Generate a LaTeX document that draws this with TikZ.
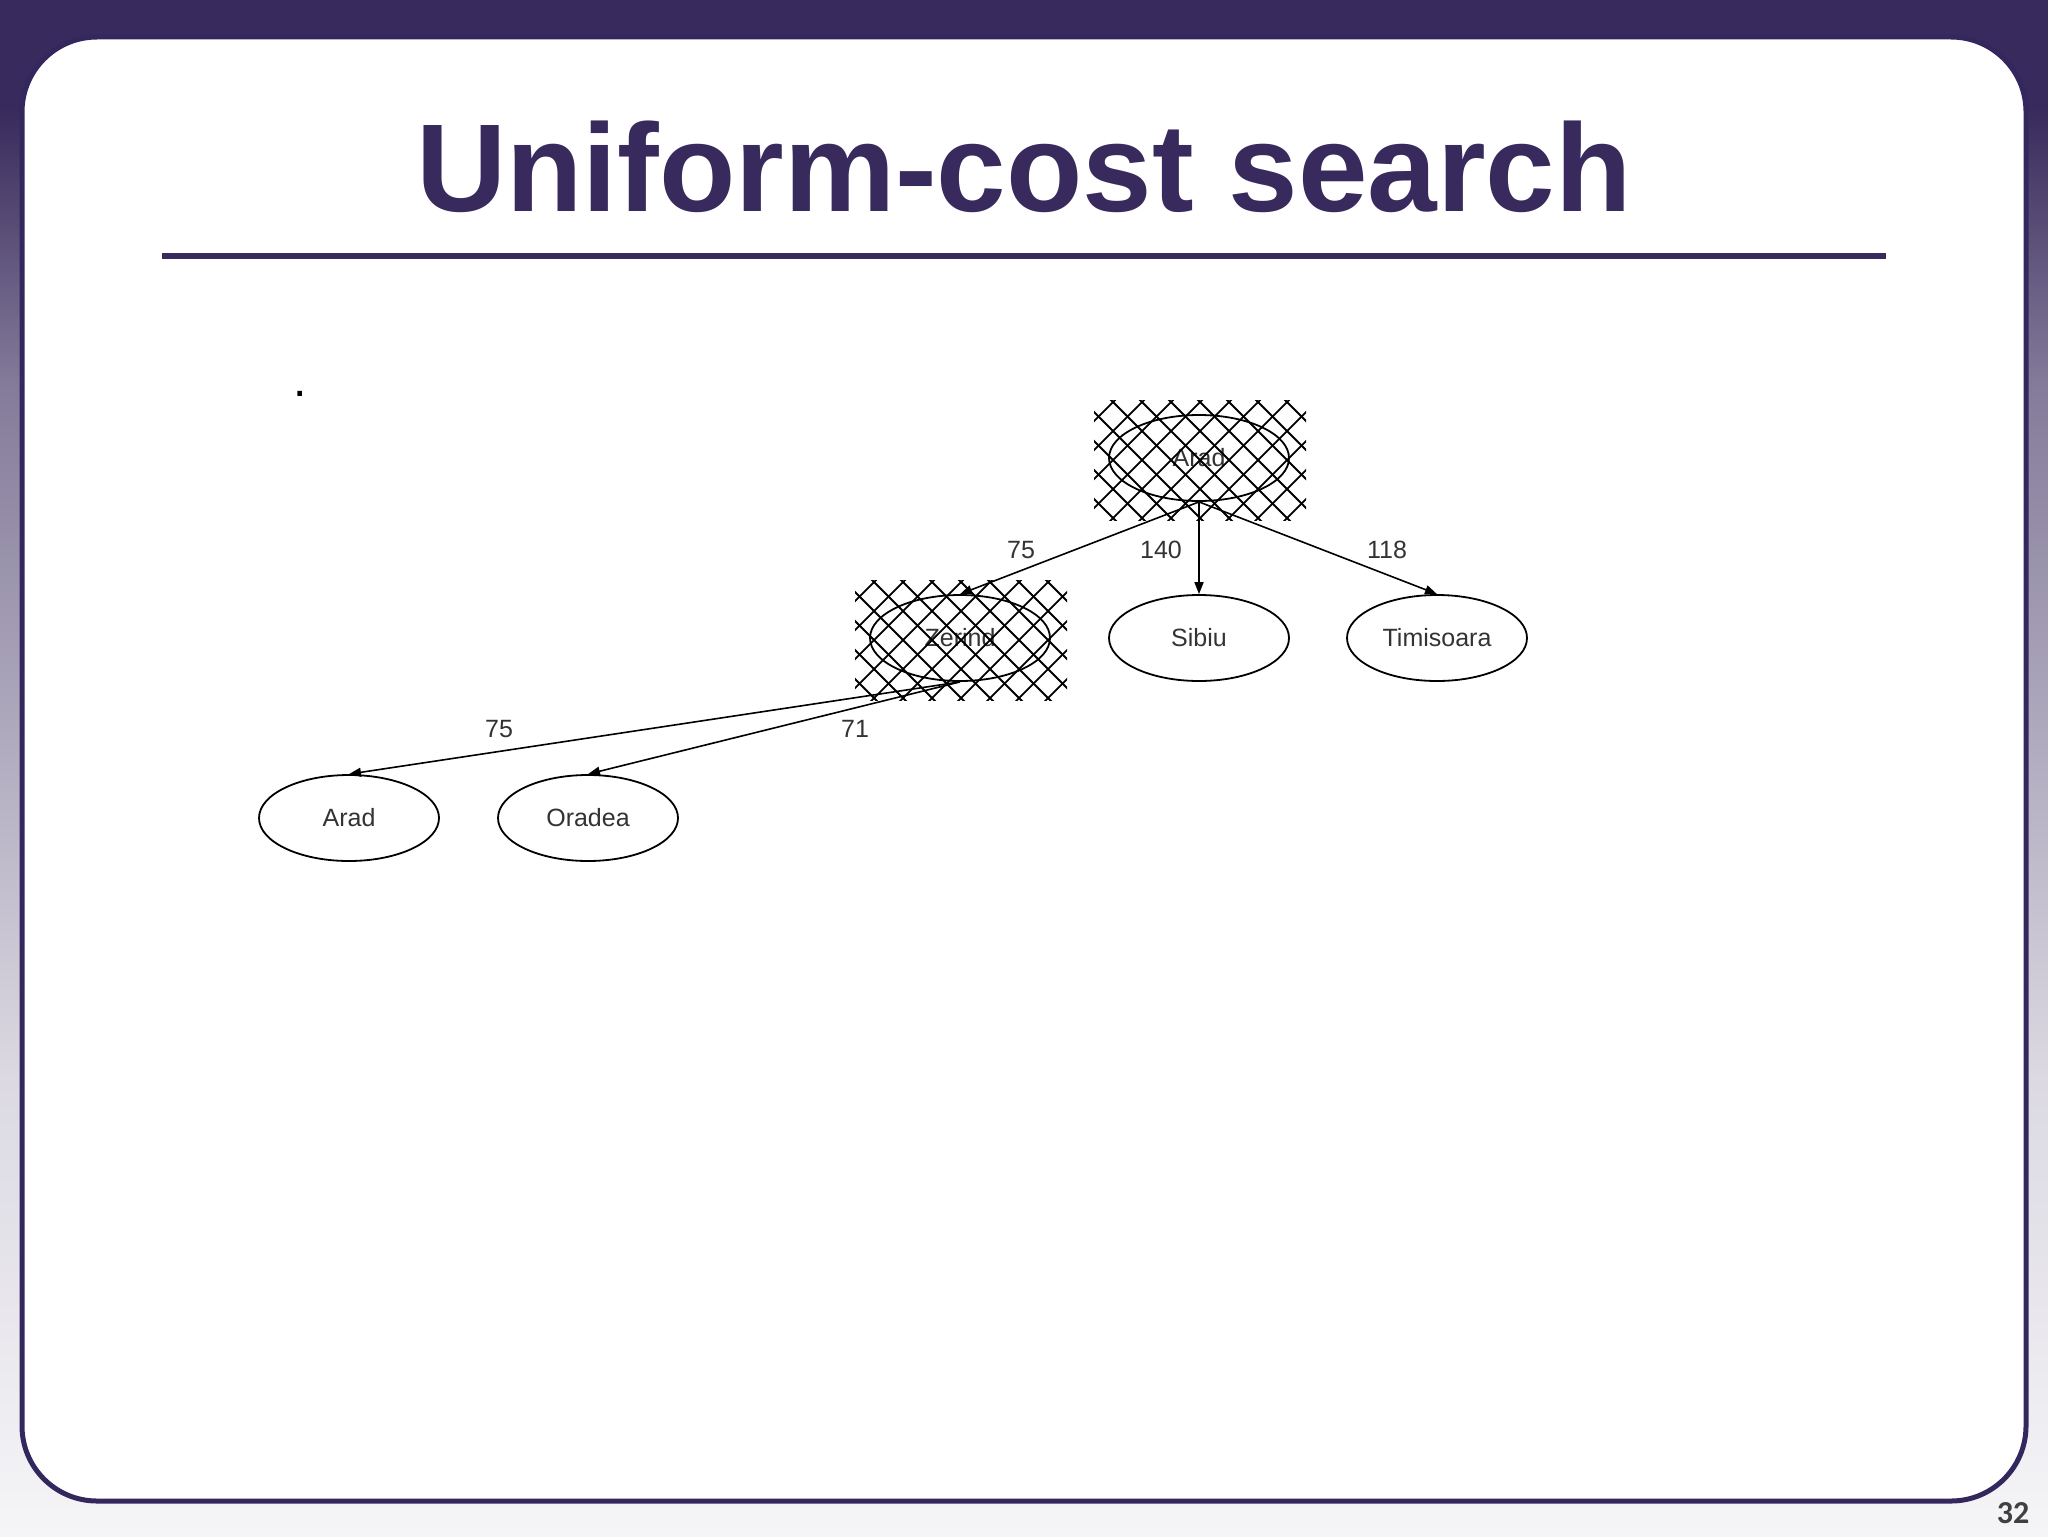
\documentclass[tikz,border=0pt]{standalone}
\usepackage{fontspec}
\setmainfont{Liberation Sans}
\newfontfamily\pagefont{Carlito}
\usetikzlibrary{shapes.geometric,arrows.meta,positioning}
\definecolor{slidepurple}{HTML}{382A5C}
\definecolor{slideborder}{HTML}{33275D}
\definecolor{labelgrey}{HTML}{333333}
\pgfdeclareverticalshading{slidebg}{100bp}{color(0bp)=(white!95!slidepurple); color(25bp)=(white!95!slidepurple); color(40bp)=(white!82!slidepurple); color(50bp)=(white!62!slidepurple); color(62.5bp)=(white!38!slidepurple); color(71.5bp)=(slidepurple); color(100bp)=(slidepurple)}
\tikzset{
	city/.style={ellipse, draw, line width=0.9pt, minimum width=90pt, minimum height=43pt, inner sep=0pt, text=labelgrey, font=\fontsize{12.5}{14}\selectfont},
	cost/.style={text=labelgrey, inner sep=0pt, font=\fontsize{12.5}{14}\selectfont},
	treeedge/.style={line width=0.8pt, -{Triangle[length=6pt,width=4.5pt]}},
	hatchbox/.style={rectangle, minimum width=106pt, minimum height=60pt, inner sep=0pt,
		path picture={
			\foreach \k in {-12,...,12}{
				\draw[line width=0.9pt] ([xshift=\k*14.5pt]path picture bounding box.center) +(-40pt,-40pt) -- +(40pt,40pt);
				\draw[line width=0.9pt] ([xshift=\k*14.5pt]path picture bounding box.center) +(-40pt,40pt) -- +(40pt,-40pt);
			}}}
}
\begin{document}
\begin{tikzpicture}[x=0.5pt, y=-0.5pt]
	\useasboundingbox (0,0) rectangle (2048,1536);
	% Slide background
	\shade[shading=slidebg] (0,0) rectangle (2048,1536);
	\draw[slideborder, line width=2.5pt, fill=white, rounded corners=37.5pt] (22,37) rectangle (2026,1501);
	\node[font=\bfseries\fontsize{62.5}{70}\selectfont, text=slidepurple, anchor=base] (title) at (1024,211) {Uniform-cost search};
	\draw[slidepurple, line width=3pt] (162,256) -- (1886,256);
	\node[font=\fontsize{24}{24}\selectfont, anchor=base, inner sep=0pt] (dot) at (300,396) {.};
	\node[font=\pagefont\bfseries\fontsize{16}{18}\selectfont, text=black!75] (pagenum) at (2013,1513) {32};
	
	% Place nodes
	\node [city] (root) at (1199,458) {Arad};
	\node [city,below of=root,node distance=90pt] (sib) {Sibiu};
	\node [city,right of=sib,node distance=119pt] (tim) {Timisoara};
	\node [city,left of=sib,node distance=119.5pt] (zer) {Zerind};
	\node [city,below of=zer,node distance=90pt,xshift=-186pt] (ora) {Oradea};
	\node [city,left of=ora,node distance=119.5pt] (arad) {Arad};
	
	% Expanded nodes
	\node [hatchbox] (rootbox) at ([xshift=0.5pt,yshift=-1pt]root.center) {};
	\node [hatchbox] (zerbox) at ([xshift=0.5pt,yshift=-1pt]zer.center) {};
	
	% Edges and costs
	\draw[treeedge] (root.south) -- (zer.north);
	\draw[treeedge] (root.south) -- (sib.north);
	\draw[treeedge] (root.south) -- (tim.north);
	\draw[treeedge] (zer.south) -- (arad.north);
	\draw[treeedge] (zer.south) -- (ora.north);
	\node[cost] (c75a) at (1021,550) {75};
	\node[cost] (c140) at (1161,550) {140};
	\node[cost] (c118) at (1387,550) {118};
	\node[cost] (c75b) at (499,729) {75};
	\node[cost] (c71) at (855,729) {71};
\end{tikzpicture}
\end{document}
